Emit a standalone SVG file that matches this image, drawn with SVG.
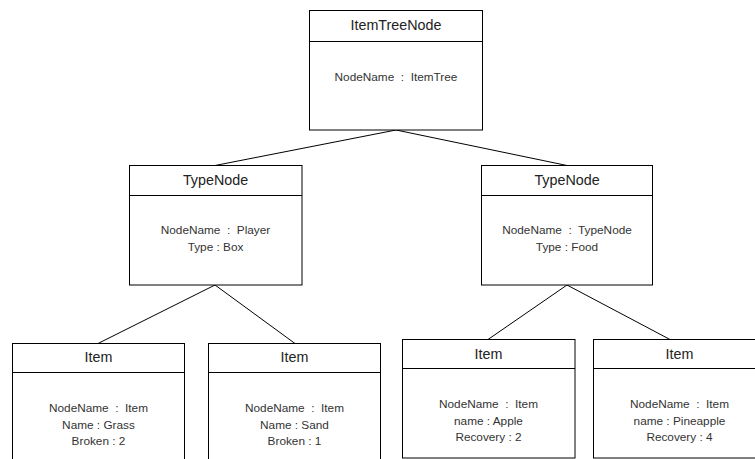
<svg xmlns="http://www.w3.org/2000/svg" width="755" height="459" viewBox="0 0 755 459">
<style>
.box{fill:#fff;stroke:#000;stroke-width:1}
.sep{stroke:#000;stroke-width:1}
.edge{stroke:#000;stroke-width:1;fill:none}
text{white-space:pre}
.h{font-family:"Liberation Sans",Arial,sans-serif;font-size:14.3px;fill:#222;text-anchor:middle}
.b{font-family:"Liberation Sans",Arial,sans-serif;font-size:11.8px;fill:#333;text-anchor:middle}
</style>
<rect width="755" height="459" fill="#fff"/>
<g id="connectors">
<line class="edge" x1="396" y1="130" x2="215" y2="165.5"/>
<line class="edge" x1="396" y1="130" x2="567" y2="165.5"/>
<line class="edge" x1="215" y1="285" x2="98" y2="343.5"/>
<line class="edge" x1="215" y1="285" x2="295" y2="343.5"/>
<line class="edge" x1="567" y1="285" x2="488" y2="339.5"/>
<line class="edge" x1="567" y1="285" x2="670" y2="339.5"/>
</g>
<g id="root">
<rect class="box" x="309.5" y="10.5" width="173" height="119.5"/>
<line class="sep" x1="309.5" y1="41.5" x2="482.5" y2="41.5"/>
<text class="h" x="396" y="30" xml:space="preserve">ItemTreeNode</text>
<text class="b" x="396" y="81" xml:space="preserve">NodeName  :  ItemTree</text>
</g>
<g id="type-player">
<rect class="box" x="129.5" y="165.5" width="172.5" height="119.5"/>
<line class="sep" x1="129.5" y1="195.5" x2="302" y2="195.5"/>
<text class="h" x="215.5" y="185">TypeNode</text>
<text class="b" x="215.5" y="234" xml:space="preserve">NodeName  :  Player</text>
<text class="b" x="215.5" y="250.5">Type : Box</text>
</g>
<g id="type-food">
<rect class="box" x="481.5" y="165.5" width="171" height="119.5"/>
<line class="sep" x1="481.5" y1="195.5" x2="652.5" y2="195.5"/>
<text class="h" x="567" y="185">TypeNode</text>
<text class="b" x="567" y="234" xml:space="preserve">NodeName  :  TypeNode</text>
<text class="b" x="567" y="250.5">Type : Food</text>
</g>
<g id="item-grass">
<rect class="box" x="12.5" y="343.5" width="172" height="120"/>
<line class="sep" x1="12.5" y1="372.5" x2="184.5" y2="372.5"/>
<text class="h" x="98.5" y="362">Item</text>
<text class="b" x="98.5" y="412" xml:space="preserve">NodeName  :  Item</text>
<text class="b" x="98.5" y="428.5">Name : Grass</text>
<text class="b" x="98.5" y="445">Broken : 2</text>
</g>
<g id="item-sand">
<rect class="box" x="208.5" y="343.5" width="172" height="120"/>
<line class="sep" x1="208.5" y1="372.5" x2="380.5" y2="372.5"/>
<text class="h" x="294.5" y="362">Item</text>
<text class="b" x="294.5" y="412" xml:space="preserve">NodeName  :  Item</text>
<text class="b" x="294.5" y="428.5">Name : Sand</text>
<text class="b" x="294.5" y="445">Broken : 1</text>
</g>
<g id="item-apple">
<rect class="box" x="402.5" y="339.5" width="172.5" height="118.5"/>
<line class="sep" x1="402.5" y1="368.5" x2="575" y2="368.5"/>
<text class="h" x="488.5" y="358.5">Item</text>
<text class="b" x="488.5" y="408" xml:space="preserve">NodeName  :  Item</text>
<text class="b" x="488.5" y="424.5">name : Apple</text>
<text class="b" x="488.5" y="441">Recovery : 2</text>
</g>
<g id="item-pineapple">
<rect class="box" x="593.5" y="339.5" width="172" height="118.5"/>
<line class="sep" x1="593.5" y1="368.5" x2="765.5" y2="368.5"/>
<text class="h" x="679.5" y="358.5">Item</text>
<text class="b" x="679.5" y="408" xml:space="preserve">NodeName  :  Item</text>
<text class="b" x="679.5" y="424.5">name : Pineapple</text>
<text class="b" x="679.5" y="441">Recovery : 4</text>
</g>
</svg>
